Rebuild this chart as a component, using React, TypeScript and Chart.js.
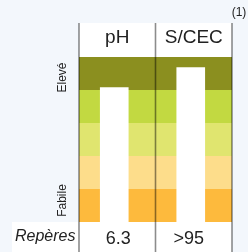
import React, { useEffect, useRef } from "react";
import { Chart, registerables } from "chart.js";

Chart.register(...registerables);

const categories = ["pH", "S/CEC"];
const barValues = [4.07, 4.68];
const referenceLabels = ["6.3", ">95"];
const bandColors = ["#fdba3d", "#fddd8b", "#e0e56f", "#c2d941", "#8b8f1f"];
const levelLabels = ["Fabile", "Elevé"];
const rowTitle = "Repères";
const noteLabel = "(1)";

const FONT = "'Liberation Sans', Arial, sans-serif";

const decorPlugin = {
  id: "decor",
  beforeDraw(chart: any) {
    const { ctx, chartArea, scales } = chart;
    const y = scales.y;
    ctx.save();
    ctx.fillStyle = "#f3f7fc";
    ctx.fillRect(0, 0, chart.width, chart.height);
    ctx.fillStyle = "#ffffff";
    ctx.fillRect(chartArea.left, 23, chartArea.right - chartArea.left, chartArea.top - 23);
    ctx.fillRect(12, chartArea.bottom, chartArea.right - 12, chart.height - chartArea.bottom);
    bandColors.forEach((c, i) => {
      const yTop = y.getPixelForValue(i + 1);
      const yBot = y.getPixelForValue(i);
      ctx.fillStyle = c;
      ctx.fillRect(chartArea.left, yTop, chartArea.right - chartArea.left, yBot - yTop);
    });
    ctx.restore();
  },
  beforeDatasetsDraw(chart: any) {
    chart.ctx.save();
    chart.ctx.translate(-3, 0);
  },
  afterDatasetsDraw(chart: any) {
    chart.ctx.restore();
  },
  afterDraw(chart: any) {
    const { ctx, chartArea, scales } = chart;
    const x = scales.x;
    const y = scales.y;
    ctx.save();
    ctx.strokeStyle = "rgba(0,0,0,0.45)";
    ctx.lineWidth = 1.6;
    const mid = (x.getPixelForValue(0) + x.getPixelForValue(1)) / 2;
    [chartArea.left, mid, chartArea.right].forEach((px) => {
      ctx.beginPath();
      ctx.moveTo(px, 23);
      ctx.lineTo(px, chart.height);
      ctx.stroke();
    });
    ctx.fillStyle = "#222";
    ctx.textAlign = "center";
    ctx.textBaseline = "middle";
    ctx.font = `19px ${FONT}`;
    categories.forEach((c, i) => {
      ctx.fillText(c, x.getPixelForValue(i), 38);
    });
    ctx.font = `18px ${FONT}`;
    referenceLabels.forEach((c, i) => {
      ctx.fillText(c, x.getPixelForValue(i) + (i === 0 ? 1 : -5), 239);
    });
    ctx.font = `italic 16px ${FONT}`;
    ctx.textAlign = "left";
    ctx.fillText(rowTitle, 15, 237);
    ctx.font = `12px ${FONT}`;
    ctx.textAlign = "center";
    ctx.fillText(noteLabel, 239, 13);
    ctx.font = `12px ${FONT}`;
    const lowY = (y.getPixelForValue(0) + y.getPixelForValue(1)) / 2 - 5;
    const highY = (y.getPixelForValue(4) + y.getPixelForValue(5)) / 2 + 4;
    [[levelLabels[0], lowY], [levelLabels[1], highY]].forEach(([t, py]) => {
      ctx.save();
      ctx.translate(62.5, py as number);
      ctx.rotate(-Math.PI / 2);
      ctx.fillText(t as string, 0, 0);
      ctx.restore();
    });
    ctx.restore();
  },
};

export default function App() {
  const ref = useRef<HTMLCanvasElement>(null);
  useEffect(() => {
    document.body.style.margin = "0";
    const chart = new Chart(ref.current!, {
      type: "bar",
      data: {
        labels: categories,
        datasets: [
          {
            data: barValues,
            backgroundColor: "#ffffff",
            borderWidth: 0,
            barThickness: 28,
          },
        ],
      },
      options: {
        animation: false,
        responsive: false,
        maintainAspectRatio: false,
        layout: { padding: { left: 79, right: 16, top: 57, bottom: 30 } },
        plugins: { legend: { display: false }, tooltip: { enabled: false } },
        scales: {
          x: { display: false },
          y: { display: false, min: 0, max: 5 },
        },
      },
      plugins: [decorPlugin],
    });
    return () => chart.destroy();
  }, []);
  return <canvas ref={ref} width={248} height={252} style={{ display: "block" }} />;
}
